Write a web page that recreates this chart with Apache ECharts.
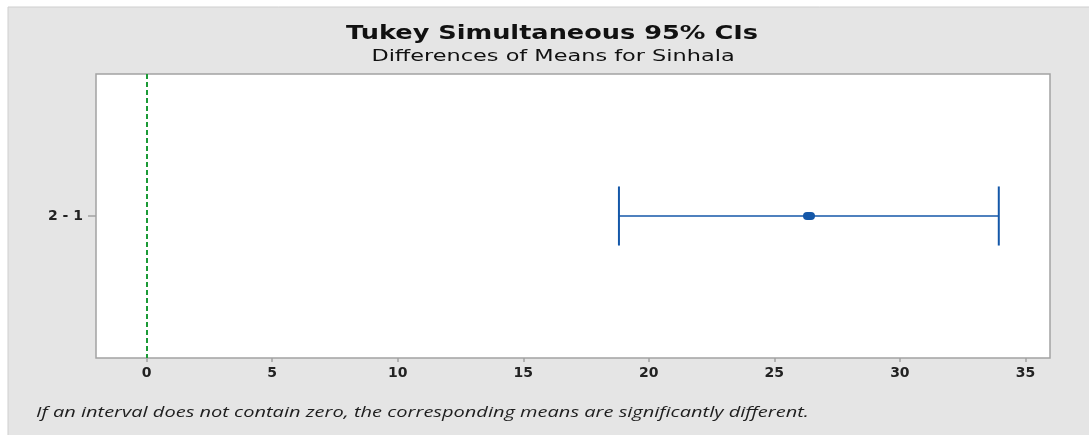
<!DOCTYPE html>
<html>
<head>
<meta charset="utf-8">
<script src="https://cdn.jsdelivr.net/npm/echarts@6/dist/echarts.min.js"></script>
<style>
  html, body { margin: 0; padding: 0; background: #ffffff; }
  #chart { width: 1089px; height: 435px; }
</style>
</head>
<body>
<div id="chart"></div>
<script>
// Pairwise comparison labels and their Tukey 95% interval (lower, difference, upper)
const comparisons = ['2 - 1'];
const lowerBounds = [18.81];
const meanDiffs = [26.38];
const upperBounds = [33.94];

// x axis tick positions
const xTicks = [0, 5, 10, 15, 20, 25, 30, 35];

const titleText = 'Tukey Simultaneous 95% CIs';
const subtitleText = 'Differences of Means for Sinhala';
const noteText = 'If an interval does not contain zero, the corresponding means are significantly different.';

const BLUE = '#1457a8';
const LABEL_FONT = 'DejaVu Sans';

const chart = echarts.init(document.getElementById('chart'), null, { renderer: 'canvas' });

const intervalData = comparisons.map((c, i) => [i, lowerBounds[i], meanDiffs[i], upperBounds[i]]);

chart.setOption({
  backgroundColor: '#ffffff',
  animation: false,
  graphic: [
    {
      type: 'rect', z: -10, silent: true,
      shape: { x: 8, y: 7, width: 1089, height: 435 },
      style: { fill: '#e5e5e5', stroke: '#cfcfcf', lineWidth: 1 }
    },
    {
      // main heading, set in a wide face
      type: 'text', x: 552, y: 34, scaleX: 1.28, silent: true,
      style: {
        text: titleText,
        font: 'bold 20px "DejaVu Sans"',
        fill: '#111111',
        textAlign: 'center',
        textVerticalAlign: 'middle'
      }
    },
    {
      type: 'text', x: 553, y: 57, scaleX: 1.4, silent: true,
      style: {
        text: subtitleText,
        font: '16px "DejaVu Sans"',
        fill: '#111111',
        textAlign: 'center',
        textVerticalAlign: 'middle'
      }
    },
    {
      type: 'text', x: 36, y: 413, scaleX: 1.335, silent: true,
      style: {
        text: noteText,
        font: 'italic 15px "Open Sans"',
        fill: '#1e1e1e',
        textAlign: 'left',
        textVerticalAlign: 'middle'
      }
    }
  ],
  grid: {
    left: 96, right: 39, top: 74, bottom: 77,
    show: true,
    backgroundColor: '#ffffff',
    borderColor: '#a3a3a3',
    borderWidth: 1.5
  },
  xAxis: {
    type: 'value',
    min: -2.02,
    max: 35.98,
    splitLine: { show: false },
    axisLine: { show: false },
    axisTick: { show: true, length: 4, customValues: xTicks, lineStyle: { color: '#a3a3a3', width: 1.5 } },
    axisLabel: {
      customValues: xTicks,
      margin: 8,
      fontFamily: LABEL_FONT, fontSize: 14, fontWeight: 'bold', color: '#222222'
    }
  },
  yAxis: {
    type: 'category',
    data: comparisons,
    inverse: true,
    axisLine: { show: false, onZero: false },
    axisTick: { show: true, length: 8, alignWithLabel: true, lineStyle: { color: '#a3a3a3', width: 1.5 } },
    axisLabel: { margin: 13, fontFamily: LABEL_FONT, fontSize: 14, fontWeight: 'bold', color: '#222222' }
  },
  series: [
    {
      // zero reference line
      type: 'line',
      data: [],
      silent: true,
      markLine: {
        silent: true,
        symbol: 'none',
        label: { show: false },
        lineStyle: { color: '#1b9a36', type: [5, 3], width: 2 },
        data: [{ xAxis: 0 }]
      }
    },
    {
      type: 'custom',
      data: intervalData,
      encode: { x: [1, 2, 3], y: 0 },
      renderItem: function (params, api) {
        const cat = api.value(0);
        const lo = api.coord([api.value(1), cat]);
        const mid = api.coord([api.value(2), cat]);
        const hi = api.coord([api.value(3), cat]);
        const band = api.size([0, 1])[1];
        const capHalf = band * 0.104;
        return {
          type: 'group',
          children: [
            {
              type: 'line',
              shape: { x1: lo[0], y1: lo[1], x2: hi[0], y2: hi[1] },
              style: { stroke: BLUE, lineWidth: 1.4 }
            },
            {
              type: 'line',
              shape: { x1: lo[0], y1: lo[1] - capHalf, x2: lo[0], y2: lo[1] + capHalf },
              style: { stroke: BLUE, lineWidth: 2 }
            },
            {
              type: 'line',
              shape: { x1: hi[0], y1: hi[1] - capHalf, x2: hi[0], y2: hi[1] + capHalf },
              style: { stroke: BLUE, lineWidth: 2 }
            },
            {
              type: 'rect',
              shape: { x: mid[0] - 6, y: mid[1] - 4, width: 12, height: 8, r: 4 },
              style: { fill: BLUE }
            }
          ]
        };
      }
    }
  ]
});
</script>
</body>
</html>
